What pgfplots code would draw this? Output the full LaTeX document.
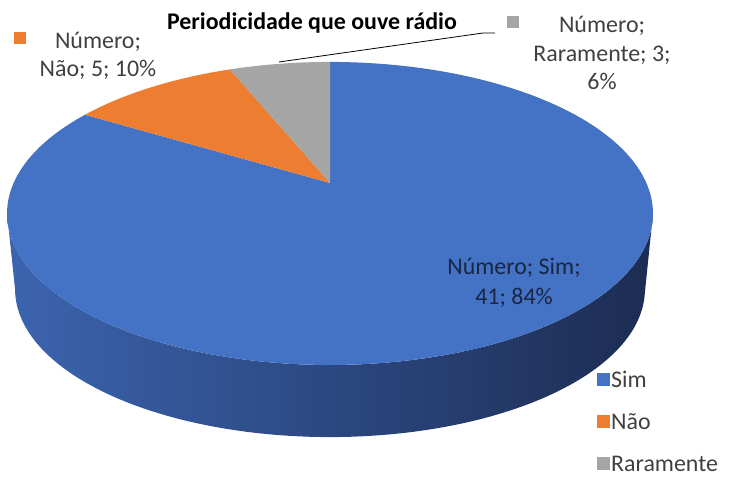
\documentclass[border=0pt]{standalone}
\usepackage{fontspec}
\setmainfont{Carlito}
\usepackage{pgfplots}
\usepackage{pgfplotstable}
\pgfplotsset{compat=1.18}
\definecolor{simblue}{RGB}{68,114,196}
\definecolor{naoorange}{RGB}{237,125,49}
\definecolor{rargray}{RGB}{165,165,165}
\definecolor{sideL}{RGB}{60,100,175}
\definecolor{sideM}{RGB}{40,68,125}
\definecolor{sideR}{RGB}{28,44,82}
\definecolor{lbl}{RGB}{64,64,64}
\definecolor{simlbl}{RGB}{25,38,68}

\pgfplotstableread{
cat val
Sim 41
Nao 5
Raramente 3
}\piedata

\begin{document}
\pgfplotstablegetelem{0}{val}\of\piedata \edef\vA{\pgfplotsretval}%
\pgfplotstablegetelem{1}{val}\of\piedata \edef\vB{\pgfplotsretval}%
\pgfplotstablegetelem{2}{val}\of\piedata \edef\vC{\pgfplotsretval}%
\pgfmathsetmacro\tot{\vA+\vB+\vC}%
\pgfmathsetmacro\aA{90-360*\vA/\tot}%
\pgfmathsetmacro\aB{\aA-360*\vB/\tot}%
\pgfmathsetmacro\aC{\aB-360*\vC/\tot}%
\begin{tikzpicture}
\begin{axis}[
  scale only axis, width=730bp, height=478bp,
  xmin=0, xmax=730, ymin=0, ymax=478, y dir=reverse,
  hide axis, clip=false,
  declare function={
    tx(\t)=330+316.4*cos(\t)/(1+0.201*sin(\t));
    ty(\t)=183-145.4*sin(\t)/(1+0.201*sin(\t));
    bx(\t)=330+308.5*cos(\t)/(1+0.201*sin(\t));
    by(\t)=259.6-141.8*sin(\t)/(1+0.201*sin(\t));
    tt(\s)=(\s<=1)*(-168.4+156.8*\s)+(\s>1)*(-11.6-156.8*(\s-1));
    sx(\s)=(\s<=1)*tx(tt(\s))+(\s>1)*bx(tt(\s));
    sy(\s)=(\s<=1)*ty(tt(\s))+(\s>1)*by(tt(\s));
  },
  legend style={draw=none, fill=none, at={(axis cs:597,421)}, anchor=west,
    font=\fontsize{24}{24}\selectfont, text=lbl, row sep=23bp, inner sep=0pt,
    nodes={inner sep=1bp, text height=17bp, text depth=0pt}},
  legend cell align=left,
  legend image code/.code={\fill[#1] (0bp,-6.5bp) rectangle (13bp,6.5bp);},
]
% fix the picture's extent to the full axis area
\path (axis cs:0,0) rectangle (axis cs:730,478);

\addplot[draw=none, left color=sideL, middle color=sideM, right color=sideR,
  domain=0:2, samples=201, forget plot] ({sx(x)},{sy(x)}) -- cycle;
\addplot[fill=simblue, draw=none, domain=\aA:90, samples=150]
  ({tx(x)},{ty(x)}) -- (axis cs:330,183) -- cycle;
\addlegendentry{Sim}
\addplot[fill=naoorange, draw=none, domain=\aB:\aA, samples=40]
  ({tx(x)},{ty(x)}) -- (axis cs:330,183) -- cycle;
\addlegendentry{Não}
\addplot[fill=rargray, draw=none, domain=\aC:\aB, samples=30]
  ({tx(x)},{ty(x)}) -- (axis cs:330,183) -- cycle;
\addlegendentry{Raramente}

% title and leader line
\node[font=\fontsize{24}{24}\selectfont\bfseries, text=black] at (axis cs:312,23) {Periodicidade que ouve rádio};
\draw[black, line width=0.8bp] (axis cs:279,62) -- (axis cs:483,33) -- (axis cs:495,33);

% data labels
\fill[naoorange] (axis cs:14,32) rectangle (axis cs:26,44);
\node[align=center, font=\fontsize{24}{28.5}\selectfont, text=lbl] at (axis cs:98,56) {Número;\\Não; 5; 10\%};
\fill[rargray] (axis cs:507,16) rectangle (axis cs:519,28);
\node[align=center, font=\fontsize{24}{28.5}\selectfont, text=lbl] at (axis cs:602,53) {Número;\\Raramente; 3;\\6\%};
\node[align=center, font=\fontsize{24}{30}\selectfont, text=simlbl] at (axis cs:514,283) {Número; Sim;\\41; 84\%};
\end{axis}
\end{tikzpicture}
\end{document}
